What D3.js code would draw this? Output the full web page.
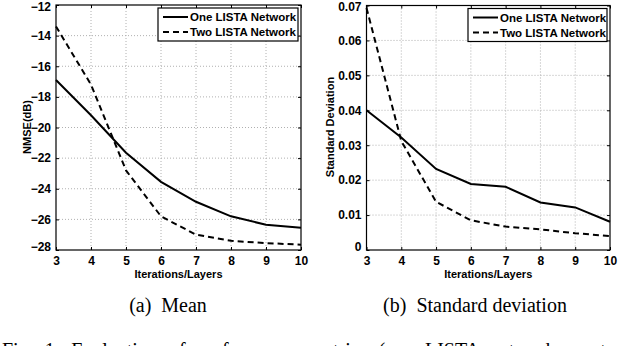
<!DOCTYPE html>
<html>
<head>
<meta charset="utf-8">
<script src="https://cdn.jsdelivr.net/npm/d3@7"></script>
<style>
  body { margin: 0; background: #fff; }
  svg { display: block; }
</style>
</head>
<body>
<div id="chart"></div>
<script>
var layers = [3, 4, 5, 6, 7, 8, 9, 10];

var meanOne = [-16.9, -19.2, -21.65, -23.55, -24.85, -25.8, -26.35, -26.55];
var meanTwo = [-13.4, -17.2, -22.8, -25.8, -27.0, -27.4, -27.55, -27.65];

var stdOne = [0.0400, 0.0322, 0.0232, 0.0189, 0.0181, 0.0136, 0.0122, 0.0081];
var stdTwo = [0.0693, 0.0312, 0.0138, 0.0085, 0.0067, 0.0059, 0.0048, 0.0040];

var meanTicks = [-28, -26, -24, -22, -20, -18, -16, -14, -12];
var stdTicks = [0, 0.01, 0.02, 0.03, 0.04, 0.05, 0.06, 0.07];

var seriesNames = ['One LISTA Network', 'Two LISTA Network'];

var width = 640,
    height = 346;

var svg = d3.select('#chart').append('svg')
    .attr('width', width)
    .attr('height', height)
    .style('background', '#fff');

var sans = '"Liberation Sans", Arial, sans-serif';
var serif = '"Liberation Serif", "Times New Roman", serif';

function panel(opt) {
    var x = d3.scaleLinear().domain([3, 10]).range([opt.left, opt.right]);
    var y = d3.scaleLinear().domain(opt.yDomain).range([opt.bottom, opt.top]);
    var g = svg.append('g');

    // dotted grid
    g.selectAll('.gx').data(layers.slice(1, -1)).enter().append('line')
        .attr('x1', function(d) { return x(d); })
        .attr('x2', function(d) { return x(d); })
        .attr('y1', opt.top).attr('y2', opt.bottom)
        .style('stroke', '#b0b0b0').style('stroke-width', 1)
        .style('stroke-dasharray', '1,2');
    g.selectAll('.gy').data(opt.yTicks.slice(1, -1)).enter().append('line')
        .attr('y1', function(d) { return y(d); })
        .attr('y2', function(d) { return y(d); })
        .attr('x1', opt.left).attr('x2', opt.right)
        .style('stroke', '#b0b0b0').style('stroke-width', 1)
        .style('stroke-dasharray', '1,2');

    // axes with inward ticks, labels placed like matlab
    var ax = g.append('g').attr('transform', 'translate(0,' + opt.bottom + ')')
        .call(d3.axisBottom(x).tickValues(layers).tickFormat(d3.format('d'))
            .tickSizeInner(-3).tickSizeOuter(0).tickPadding(6));
    ax.select('.domain').remove();
    ax.selectAll('text').style('font', 'bold 12px ' + sans).attr('fill', '#000');

    var ay = g.append('g').attr('transform', 'translate(' + opt.left + ',0)')
        .call(d3.axisLeft(y).tickValues(opt.yTicks).tickFormat(opt.fmt)
            .tickSizeInner(-3).tickSizeOuter(0).tickPadding(5));
    ay.select('.domain').remove();
    ay.selectAll('text').style('font', 'bold 12px ' + sans).attr('fill', '#000');
    // nudge the end labels the way matlab keeps them clear of the corners
    ay.selectAll('text').filter(function(d) { return d === opt.yDomain[0]; })
        .attr('y', -3);
    ay.selectAll('text').filter(function(d) { return d === opt.yDomain[1]; })
        .attr('y', 1.5);

    g.append('g').attr('transform', 'translate(0,' + opt.top + ')')
        .call(d3.axisTop(x).tickValues(layers).tickSizeInner(-3).tickSizeOuter(0).tickFormat(''))
        .select('.domain').remove();
    g.append('g').attr('transform', 'translate(' + opt.right + ',0)')
        .call(d3.axisRight(y).tickValues(opt.yTicks).tickSizeInner(-3).tickSizeOuter(0).tickFormat(''))
        .select('.domain').remove();

    g.append('rect')
        .attr('x', opt.left).attr('y', opt.top)
        .attr('width', opt.right - opt.left).attr('height', opt.bottom - opt.top)
        .style('fill', 'none').style('stroke', '#000').style('stroke-width', 1.2);

    var line = d3.line()
        .x(function(d, i) { return x(layers[i]); })
        .y(function(d) { return y(d); });

    g.append('path').datum(opt.one).attr('d', line)
        .style('fill', 'none').style('stroke', '#000').style('stroke-width', 2);
    g.append('path').datum(opt.two).attr('d', line)
        .style('fill', 'none').style('stroke', '#000').style('stroke-width', 2)
        .style('stroke-dasharray', '6,4');

    // legend
    var lg = g.append('g');
    lg.append('rect')
        .attr('x', opt.legX).attr('y', opt.top + 3)
        .attr('width', opt.legW).attr('height', 33)
        .style('fill', '#fff').style('stroke', '#000').style('stroke-width', 1.2);
    seriesNames.forEach(function(name, i) {
        var ly = opt.top + 12 + i * 15;
        lg.append('line')
            .attr('x1', opt.legX + 5).attr('x2', opt.legX + 30)
            .attr('y1', ly).attr('y2', ly)
            .style('stroke', '#000').style('stroke-width', 2)
            .style('stroke-dasharray', i ? '6,4' : null);
        lg.append('text')
            .attr('x', opt.legX + 32).attr('y', ly)
            .attr('dy', '0.35em')
            .style('font', 'bold 11.5px ' + sans)
            .text(name);
    });

    // axis titles
    g.append('text')
        .attr('x', (opt.left + opt.right) / 2).attr('y', 278)
        .attr('text-anchor', 'middle')
        .style('font', 'bold 11px ' + sans)
        .text('Iterations/Layers');
    g.append('text')
        .attr('transform', 'translate(' + opt.yLabX + ',' + 127 + ') rotate(-90)')
        .attr('text-anchor', 'middle')
        .style('font', 'bold 11px ' + sans)
        .text(opt.yLabel);

    svg.append('text')
        .attr('x', opt.capX).attr('y', 312)
        .attr('text-anchor', 'middle')
        .style('font', '20px ' + serif)
        .text(opt.caption);
}

panel({
    left: 56, right: 301, top: 5, bottom: 250,
    yDomain: [-28, -12], yTicks: meanTicks,
    fmt: function(d) { return d3.format('d')(d).replace('-', '\u2212'); },
    one: meanOne, two: meanTwo,
    legX: 158, legW: 140,
    yLabX: 31, yLabel: 'NMSE(dB)',
    capX: 168, caption: '(a)\u00a0 Mean'
});

panel({
    left: 366.5, right: 610, top: 5.5, bottom: 250,
    yDomain: [0, 0.07], yTicks: stdTicks,
    fmt: function(d) { return d === 0 ? '0' : d3.format('.2f')(d); },
    one: stdOne, two: stdTwo,
    legX: 468, legW: 139,
    yLabX: 334, yLabel: 'Standard Deviation',
    capX: 475, caption: '(b)\u00a0 Standard deviation'
});

svg.append('text')
    .attr('x', 2).attr('y', 357)
    .style('font', '20px ' + serif)
    .style('word-spacing', '6px')
    .text('Fig. 1:  Evaluation of performance metrics (one LISTA network vs. two LISTA');
</script>
</body>
</html>
